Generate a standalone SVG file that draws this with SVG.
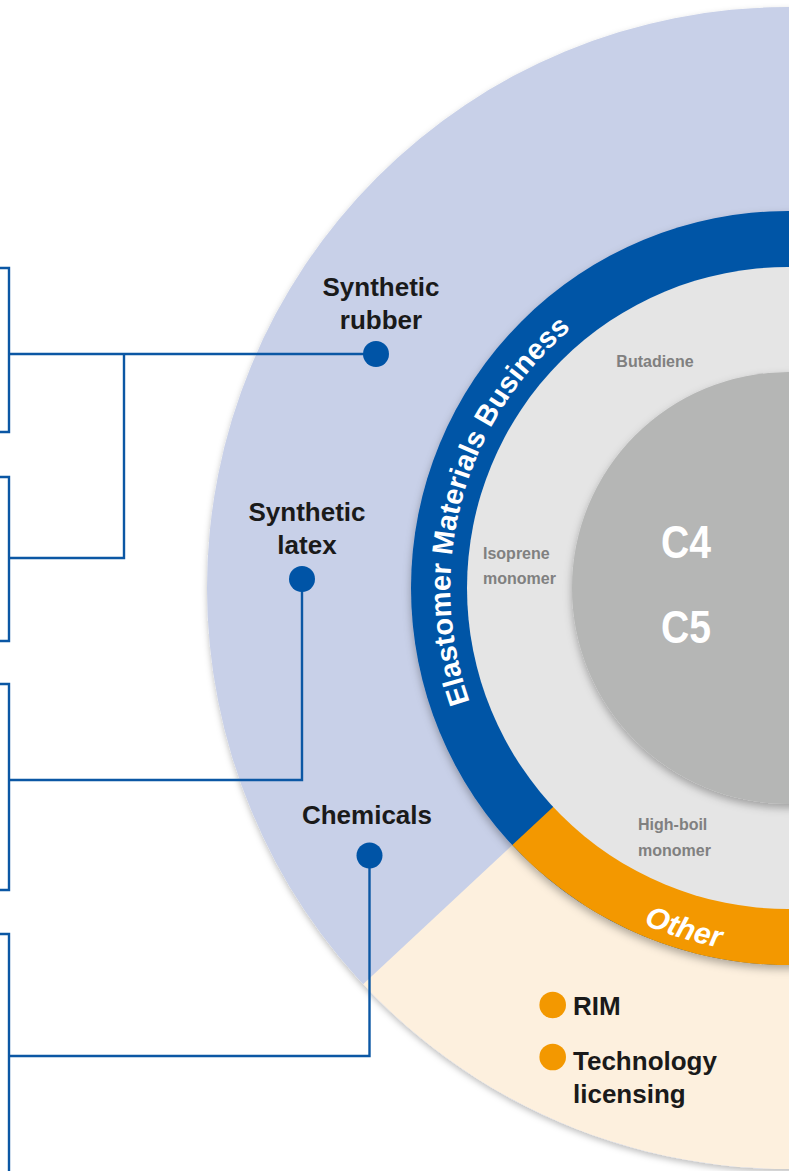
<svg xmlns="http://www.w3.org/2000/svg" width="789" height="1171" viewBox="0 0 789 1171">
<defs>
<filter id="sh" x="-10%" y="-10%" width="120%" height="120%"><feDropShadow dx="0" dy="4" stdDeviation="4" flood-color="#000" flood-opacity="0.3"/></filter>
<filter id="sh2" x="-10%" y="-10%" width="120%" height="120%"><feDropShadow dx="0" dy="3" stdDeviation="3" flood-color="#000" flood-opacity="0.25"/></filter>
<path id="arcEMB" d="M495.3,757 A339,339 0 0 1 619,295.3"/>
<path id="arcOther" d="M578.1,887.8 A366,366 0 0 0 794.4,953.9"/>
</defs>
<style>
.lbl{font-family:"Liberation Sans",Arial,sans-serif;font-weight:bold;font-size:26px;fill:#1a1a1a}
.glbl{font-family:"Liberation Sans",Arial,sans-serif;font-weight:bold;font-size:16px;fill:#808080}
.big{font-family:"Liberation Sans",Arial,sans-serif;font-weight:bold;font-size:46px;fill:#ffffff}
.ring{font-family:"Liberation Sans",Arial,sans-serif;font-weight:bold;fill:#ffffff}
.conn{fill:none;stroke:#0b57a4;stroke-width:2.4}
.bdot{fill:#0054a6}
.odot{fill:#f39800}
</style>
<rect width="789" height="1171" fill="#ffffff"/>
<g id="background">
<circle cx="788" cy="588" r="581" fill="#c8d0e8" filter="url(#sh2)"/>
<path d="M788,588 L363.1,984.2 A581,581 0 0 0 1334,786.7 Z" fill="#fdf0de"/>
</g>
<g id="ring">
<g filter="url(#sh)">
<circle cx="788" cy="588" r="377" fill="#0054a6"/>
<path d="M788,588 L512.3,845.1 A377,377 0 0 0 1142.3,717 Z" fill="#f39800"/>
</g>
<circle cx="788" cy="588" r="321" fill="#e5e5e5"/>
<text class="ring" font-size="29"><textPath href="#arcEMB" startOffset="60.7">Elastomer</textPath></text>
<text class="ring" font-size="29"><textPath href="#arcEMB" startOffset="209">Materials</textPath></text>
<text class="ring" font-size="29"><textPath href="#arcEMB" startOffset="342.8">Business</textPath></text>
<text class="ring" font-size="30" font-style="italic"><textPath href="#arcOther" startOffset="50%" text-anchor="middle">Other</textPath></text>
</g>
<g id="core">
<circle cx="788" cy="588" r="216" fill="#b5b6b5" filter="url(#sh)"/>
<text class="big" x="686" y="558" text-anchor="middle" textLength="50" lengthAdjust="spacingAndGlyphs">C4</text>
<text class="big" x="686" y="643" text-anchor="middle" textLength="50" lengthAdjust="spacingAndGlyphs">C5</text>
</g>
<g id="butadiene"><text class="glbl" x="655" y="367" text-anchor="middle">Butadiene</text></g>
<g id="isoprene-monomer"><text class="glbl" x="483" y="559">Isoprene</text><text class="glbl" x="483" y="584">monomer</text></g>
<g id="high-boil-monomer"><text class="glbl" x="638" y="830">High-boil</text><text class="glbl" x="638" y="856">monomer</text></g>
<g id="connectors">
<path class="conn" d="M376,354 H9"/>
<path class="conn" d="M124,354 V558 H9"/>
<path class="conn" d="M302,579 V780 H9"/>
<path class="conn" d="M369.5,855.5 V1056 H9"/>
<path class="conn" d="M0,268 H9 V432 H0"/>
<path class="conn" d="M0,477 H9 V641 H0"/>
<path class="conn" d="M0,684 H9 V890 H0"/>
<path class="conn" d="M0,934 H9 V1172"/>
</g>
<g id="synthetic-rubber">
<circle class="bdot" cx="376" cy="354" r="13"/>
<text class="lbl" x="381" y="296" text-anchor="middle">Synthetic</text>
<text class="lbl" x="381" y="329" text-anchor="middle">rubber</text>
</g>
<g id="synthetic-latex">
<circle class="bdot" cx="302" cy="579" r="13"/>
<text class="lbl" x="307" y="521" text-anchor="middle">Synthetic</text>
<text class="lbl" x="307" y="554" text-anchor="middle">latex</text>
</g>
<g id="chemicals">
<circle class="bdot" cx="369.5" cy="855.5" r="13"/>
<text class="lbl" x="367" y="824" text-anchor="middle">Chemicals</text>
</g>
<g id="rim">
<circle class="odot" cx="552.7" cy="1005" r="13.3"/>
<text class="lbl" x="573" y="1015">RIM</text>
</g>
<g id="technology-licensing">
<circle class="odot" cx="552.7" cy="1057" r="13.3"/>
<text class="lbl" x="573" y="1070">Technology</text>
<text class="lbl" x="573" y="1103">licensing</text>
</g>
</svg>
